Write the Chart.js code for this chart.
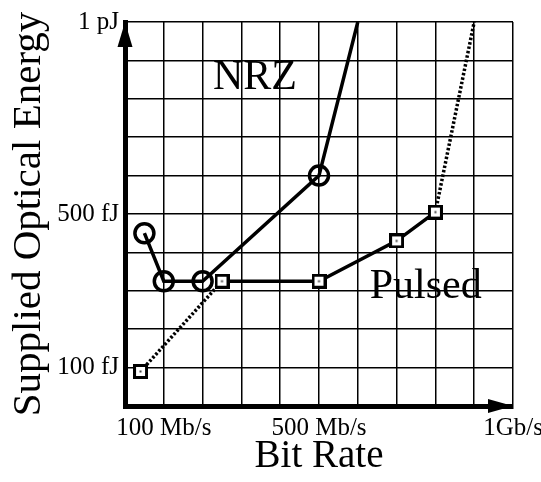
<!DOCTYPE html>
<html>
<head>
<meta charset="utf-8">
<script src="https://cdn.jsdelivr.net/npm/chart.js@4"></script>
<style>
  html, body { margin: 0; padding: 0; background: #fff; }
  #wrap { width: 541px; height: 482px; }
</style>
</head>
<body>
<div id="wrap"><canvas id="chart"></canvas></div>
<script>
// tick labels (bit rate in Mb/s, energy in fJ)
const rateTicks = [100, 500, 1000];
const rateTickLabels = ['100 Mb/s', '500 Mb/s', '1Gb/s'];
const energyTicks = [100, 500, 1000];
const energyTickLabels = ['100 fJ', '500 fJ', '1 pJ'];

// NRZ curve
const nrzRate   = [50, 100, 200, 500, 600];
const nrzEnergy = [450, 325, 325, 600, 1000];

// Pulsed curve (measured part)
const pulsedRate   = [250, 500, 700, 800];
const pulsedEnergy = [325, 325, 430, 505];

// Pulsed dotted extensions
const pulsedLowRate    = [40, 250];
const pulsedLowEnergy  = [90, 325];
const pulsedHighRate   = [800, 900];
const pulsedHighEnergy = [505, 1000];

const FONT = "'Liberation Serif', 'Times New Roman', serif";
const INK = '#000';

const pts = (xs, ys) => xs.map((x, i) => ({ x, y: ys[i] }));

const labelFor = (ticks, labels) => v => {
  const i = ticks.indexOf(v);
  return i >= 0 ? labels[i] : '';
};

// square marker with a small dot in the middle
const squareMark = (() => {
  const c = document.createElement('canvas');
  c.width = 15; c.height = 15;
  const g = c.getContext('2d');
  g.fillStyle = '#fff';
  g.fillRect(1, 1, 13, 13);
  g.strokeStyle = INK;
  g.lineWidth = 3;
  g.strokeRect(1.5, 1.5, 12, 12);
  g.fillStyle = '#444';
  g.fillRect(6.5, 6.5, 2, 2);
  return c;
})();

// arrows on the axes + curve names
const extras = {
  id: 'extras',
  afterDraw(chart) {
    const { ctx, chartArea: a, scales: { x, y } } = chart;
    ctx.save();
    ctx.fillStyle = INK;
    ctx.beginPath();
    ctx.moveTo(a.left, a.top);
    ctx.lineTo(a.left - 7.5, a.top + 25);
    ctx.lineTo(a.left + 7.5, a.top + 25);
    ctx.closePath();
    ctx.fill();
    ctx.beginPath();
    ctx.moveTo(a.right, a.bottom);
    ctx.lineTo(a.right - 25, a.bottom - 7);
    ctx.lineTo(a.right - 25, a.bottom + 7);
    ctx.closePath();
    ctx.fill();

    ctx.font = '42px ' + FONT;
    ctx.textAlign = 'center';
    ctx.textBaseline = 'alphabetic';
    ctx.fillText('NRZ', x.getPixelForValue(335), y.getPixelForValue(826));
    ctx.fillText('Pulsed', x.getPixelForValue(775), y.getPixelForValue(280));
    ctx.restore();
  },
};

new Chart(document.getElementById('chart').getContext('2d'), {
  type: 'scatter',
  data: {
    datasets: [
      {
        label: 'Pulsed low',
        data: pts(pulsedLowRate, pulsedLowEnergy),
        showLine: true,
        borderColor: INK,
        borderWidth: 3.5,
        borderDash: [2.5, 2],
        pointStyle: squareMark,
        pointRadius: [8, 0],
        order: 4,
      },
      {
        label: 'Pulsed high',
        data: pts(pulsedHighRate, pulsedHighEnergy),
        showLine: true,
        borderColor: INK,
        borderWidth: 3.5,
        borderDash: [2.5, 2],
        pointRadius: 0,
        order: 3,
      },
      {
        label: 'NRZ',
        data: pts(nrzRate, nrzEnergy),
        showLine: true,
        borderColor: INK,
        borderWidth: 3.5,
        pointStyle: 'circle',
        pointRadius: [9.5, 9.5, 9.5, 9.5, 0],
        pointBorderWidth: 3.5,
        pointBackgroundColor: 'transparent',
        pointBorderColor: INK,
        order: 2,
      },
      {
        label: 'Pulsed',
        data: pts(pulsedRate, pulsedEnergy),
        showLine: true,
        borderColor: INK,
        borderWidth: 3.5,
        pointStyle: squareMark,
        pointRadius: 8,
        order: 1,
      },
    ],
  },
  options: {
    responsive: true,
    maintainAspectRatio: false,
    animation: false,
    layout: { padding: { top: 22, right: 28, left: 0, bottom: 0 } },
    plugins: { legend: { display: false }, tooltip: { enabled: false } },
    scales: {
      x: {
        type: 'linear',
        min: 0,
        max: 1000,
        afterFit: s => { s.height = 76; s.paddingLeft = 0; s.paddingRight = 0; },
        grid: { color: INK, lineWidth: 1.5, drawTicks: false },
        border: { color: INK, width: 5 },
        ticks: {
          stepSize: 100,
          autoSkip: false,
          maxRotation: 0,
          padding: 7,
          color: INK,
          font: { family: FONT, size: 25 },
          callback: labelFor(rateTicks, rateTickLabels),
        },
        title: {
          display: true,
          text: 'Bit Rate',
          color: INK,
          font: { family: FONT, size: 39 },
          padding: { top: 0, bottom: 2 },
        },
      },
      y: {
        type: 'linear',
        min: 0,
        max: 1000,
        afterFit: s => { s.width = 125; s.paddingTop = 0; s.paddingBottom = 0; },
        grid: { color: INK, lineWidth: 1.5, drawTicks: false },
        border: { color: INK, width: 5 },
        ticks: {
          stepSize: 100,
          autoSkip: false,
          padding: 6,
          color: INK,
          font: { family: FONT, size: 25 },
          callback: labelFor(energyTicks, energyTickLabels),
        },
        title: {
          display: true,
          text: 'Supplied Optical Energy',
          color: INK,
          font: { family: FONT, size: 41 },
          padding: { top: 5, bottom: 0 },
        },
      },
    },
  },
  plugins: [extras],
});
</script>
</body>
</html>
